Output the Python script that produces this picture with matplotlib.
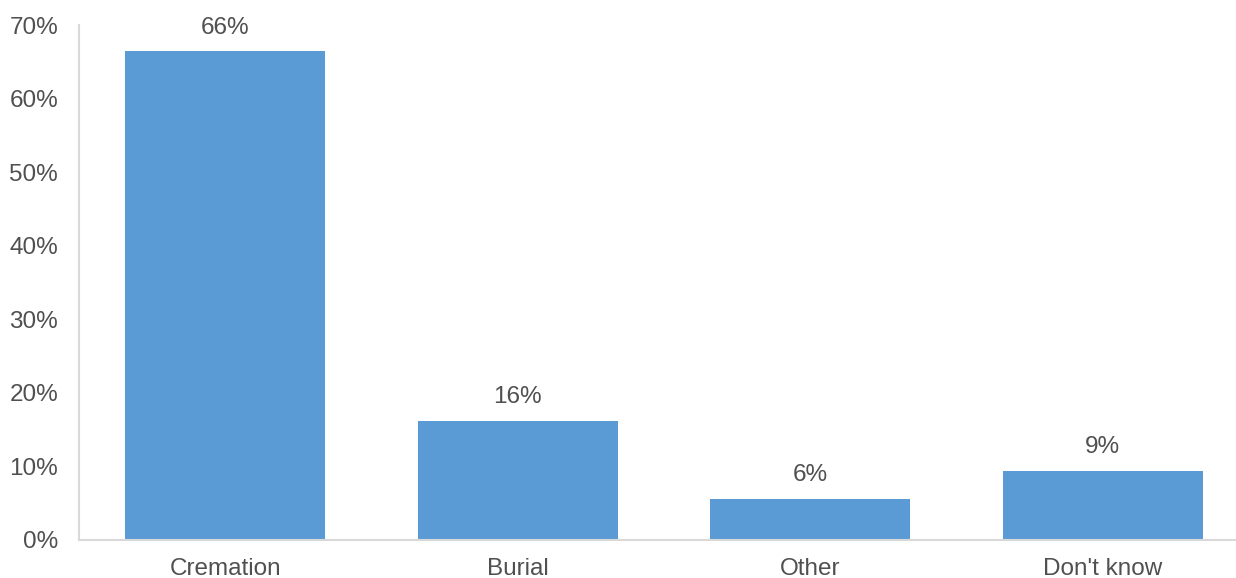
import matplotlib
matplotlib.use("Agg")
import matplotlib.pyplot as plt
from matplotlib.ticker import FuncFormatter

categories = ["Cremation", "Burial", "Other", "Don't know"]
values = [66.4, 16.2, 5.6, 9.4]
labels = ["66%", "16%", "6%", "9%"]
yticks = [0, 10, 20, 30, 40, 50, 60, 70]

plt.rcParams['font.family'] = ['Liberation Sans', 'DejaVu Sans']
text_color = "#505050"
bar_color = "#5B9BD5"
fs = 17.5

fig = plt.figure(figsize=(12.36, 5.78), dpi=100)
ax = fig.add_axes([79/1236, 1 - 540/578, (1236-79)/1236, (540-25)/578])

x = list(range(len(categories)))
bars = ax.bar(x, values, width=0.684, color=bar_color, zorder=2)
for xi, v, lab in zip(x, values, labels):
    ax.annotate(lab, (xi, v), xytext=(0, 9), textcoords="offset points",
                ha="center", va="bottom", fontsize=fs, color=text_color)

ax.set_xlim(-0.5, 3.455)
ax.set_ylim(0, 70)
ax.set_yticks(yticks)
ax.yaxis.set_major_formatter(FuncFormatter(lambda v, p: f"{int(v)}%"))
ax.set_xticks(x)
ax.set_xticklabels(categories)
ax.tick_params(axis='both', length=0, labelsize=fs, labelcolor=text_color)
ax.tick_params(axis='y', pad=15)
ax.tick_params(axis='x', pad=13)
for s in ["top", "right"]:
    ax.spines[s].set_visible(False)
for s in ["left", "bottom"]:
    ax.spines[s].set_color("#D9D9D9")
    ax.spines[s].set_linewidth(1.5)

fig.savefig("out.png", dpi=100)
